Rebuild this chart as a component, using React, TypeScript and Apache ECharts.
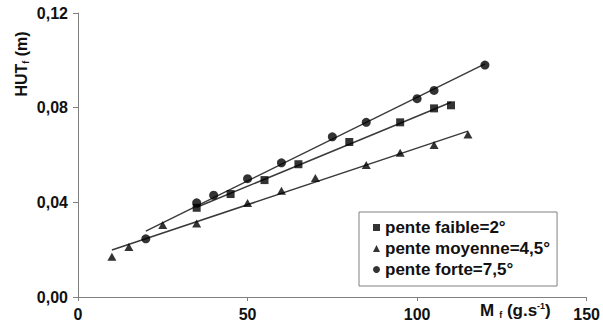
import React, { useEffect, useRef } from "react";
import * as echarts from "echarts";

const seriesNames = ["pente faible=2°", "pente moyenne=4,5°", "pente forte=7,5°"];
const symbols = ["rect", "triangle", "circle"];

const faibleX = [35, 45, 55, 65, 80, 95, 105, 110];
const faibleY = [0.0377, 0.0435, 0.0494, 0.0561, 0.0655, 0.0738, 0.0797, 0.081];

const moyenneX = [10, 15, 25, 35, 50, 60, 70, 85, 95, 105, 115];
const moyenneY = [0.017, 0.0211, 0.0304, 0.0311, 0.0397, 0.0449, 0.0503, 0.0558, 0.061, 0.0642, 0.0687];

const forteX = [20, 35, 40, 50, 60, 75, 85, 100, 105, 120];
const forteY = [0.0246, 0.0398, 0.043, 0.05, 0.0567, 0.0677, 0.0738, 0.0838, 0.0873, 0.098];

const xTicks = [0, 50, 100, 150];
const yTicks = [0, 0.04, 0.08, 0.12];

function pairs(xs: number[], ys: number[]) {
  return xs.map((x, i) => [x, ys[i]]);
}

// least-squares linear trend line between first and last x of a series
function trend(xs: number[], ys: number[]) {
  const n = xs.length;
  const mx = xs.reduce((a, b) => a + b, 0) / n;
  const my = ys.reduce((a, b) => a + b, 0) / n;
  let sxy = 0;
  let sxx = 0;
  for (let i = 0; i < n; i++) {
    sxy += (xs[i] - mx) * (ys[i] - my);
    sxx += (xs[i] - mx) * (xs[i] - mx);
  }
  const b = sxy / sxx;
  const a = my - b * mx;
  const x0 = Math.min(...xs);
  const x1 = Math.max(...xs);
  return [
    [x0, a + b * x0],
    [x1, a + b * x1],
  ];
}

const FONT = "'Liberation Sans', Arial, sans-serif";

export default function App() {
  const ref = useRef<HTMLDivElement>(null);
  useEffect(() => {
    if (!ref.current) return;
    const chart = echarts.init(ref.current, undefined, { renderer: "svg" });
    const xsAll = [faibleX, moyenneX, forteX];
    const ysAll = [faibleY, moyenneY, forteY];
    const lineSeries = xsAll.map((xs, i) => ({
      type: "line",
      data: trend(xs, ysAll[i]),
      symbol: "none",
      silent: true,
      lineStyle: { color: "#3a3a3a", width: 1.5 },
      z: 1,
    }));
    const scatterSeries = xsAll.map((xs, i) => ({
      type: "scatter",
      name: seriesNames[i],
      data: pairs(xs, ysAll[i]),
      symbol: symbols[i],
      symbolSize: i === 1 ? [9, 8] : i === 0 ? 8 : 9,
      itemStyle: { color: "#000" },
      z: 3,
    }));
    chart.setOption({
      animation: false,
      backgroundColor: "#fff",
      grid: { left: 78, right: 14, top: 13, bottom: 32, containLabel: false },
      xAxis: {
        type: "value",
        min: xTicks[0],
        max: xTicks[xTicks.length - 1],
        interval: 50,
        splitLine: { show: false },
        axisLine: { onZero: false, lineStyle: { color: "#808080", width: 1 } },
        axisTick: { show: true, length: 4, lineStyle: { color: "#808080" } },
        axisLabel: {
          color: "#111",
          fontFamily: FONT,
          fontSize: 16,
          fontWeight: "bold",
          margin: 9,
        },
      },
      yAxis: {
        type: "value",
        min: yTicks[0],
        max: yTicks[yTicks.length - 1],
        interval: 0.04,
        splitLine: { show: false },
        axisLine: { show: true, lineStyle: { color: "#808080", width: 1 } },
        axisTick: { show: true, length: 5, lineStyle: { color: "#808080" } },
        axisLabel: {
          color: "#111",
          fontFamily: FONT,
          fontSize: 16,
          fontWeight: "bold",
          margin: 10,
          formatter: (v: number) => v.toFixed(2).replace(".", ","),
        },
      },
      legend: {
        orient: "vertical",
        left: 359,
        top: 212,
        padding: [7, 7, 8, 14],
        itemGap: 4,
        itemWidth: 7,
        itemHeight: 7,
        borderColor: "#808080",
        borderWidth: 1,
        backgroundColor: "#fff",
        data: seriesNames.map((n, i) => ({ name: n, icon: symbols[i] })),
        textStyle: { color: "#111", fontFamily: FONT, fontSize: 17, fontWeight: "bold" },
      },
      graphic: [
        {
          type: "text",
          x: 21,
          y: 64,
          rotation: Math.PI / 2,
          style: {
            text: "{a|HUT}{s|f}{a| (m)}",
            align: "center",
            verticalAlign: "middle",
            fill: "#111",
            rich: {
              a: { fontFamily: FONT, fontSize: 16, fontWeight: "bold", fill: "#111", lineHeight: 18 },
              s: { fontFamily: FONT, fontSize: 9, fontWeight: "bold", fill: "#111", verticalAlign: "bottom", lineHeight: 18 },
            },
          },
        },
        {
          type: "text",
          x: 480,
          y: 301,
          style: {
            text: "{a|M}{s|  f}{a| (g.s}{p|-1}{a|)}",
            fill: "#111",
            rich: {
              a: { fontFamily: FONT, fontSize: 17, fontWeight: "bold", fill: "#111", lineHeight: 18 },
              s: { fontFamily: FONT, fontSize: 9, fontWeight: "bold", fill: "#111", verticalAlign: "bottom", lineHeight: 18 },
              p: { fontFamily: FONT, fontSize: 9, fontWeight: "bold", fill: "#111", verticalAlign: "top", lineHeight: 18 },
            },
          },
        },
      ],
      series: [...lineSeries, ...scatterSeries],
    });
    return () => chart.dispose();
  }, []);
  return <div ref={ref} style={{ width: 603, height: 329, position: "absolute", left: 0, top: 0 }} />;
}
